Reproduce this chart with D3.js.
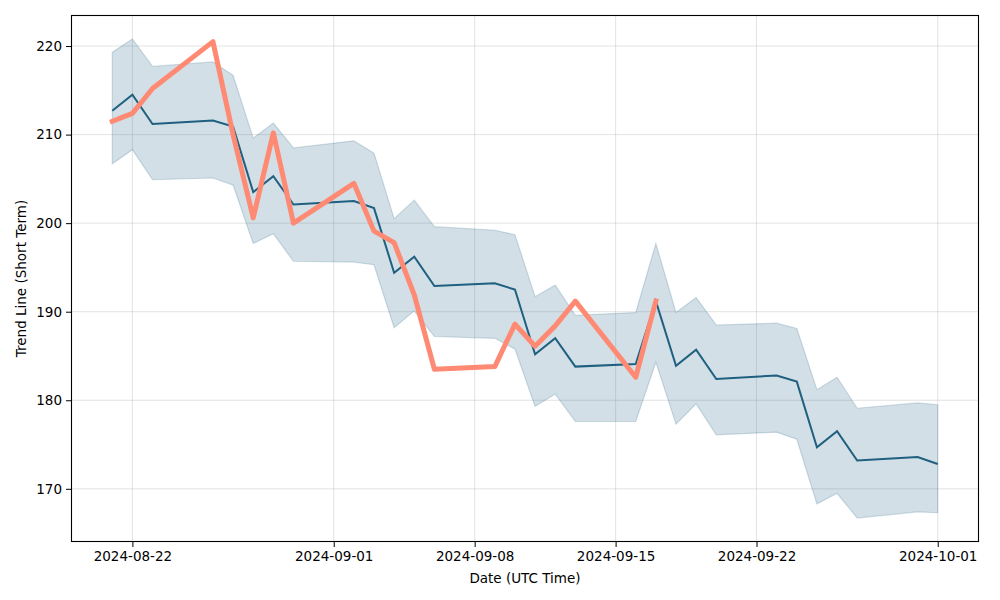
<!DOCTYPE html>
<html>
<head>
<meta charset="utf-8">
<script src="https://cdn.jsdelivr.net/npm/d3@7"></script>
<style>
html,body{margin:0;padding:0;background:#fff;}
svg text{font-family:"DejaVu Sans",sans-serif;}
</style>
</head>
<body>
<svg id="chart" width="1000" height="600"></svg>
<script>
const dates = ["2024-08-21","2024-08-22","2024-08-23","2024-08-26","2024-08-27","2024-08-28","2024-08-29","2024-08-30",
"2024-09-02","2024-09-03","2024-09-04","2024-09-05","2024-09-06","2024-09-09","2024-09-10","2024-09-11","2024-09-12","2024-09-13",
"2024-09-16","2024-09-17","2024-09-18","2024-09-19","2024-09-20","2024-09-23","2024-09-24","2024-09-25","2024-09-26","2024-09-27",
"2024-09-30","2024-10-01"];
const trend = [212.7,214.5,211.2,211.6,210.9,203.5,205.3,202.1,202.5,201.7,194.4,196.2,192.9,193.2,192.5,185.2,187.0,183.8,
184.1,191.2,183.9,185.7,182.4,182.8,182.1,174.7,176.5,173.2,173.6,172.8];
const upper = [219.3,220.8,217.7,218.2,216.7,209.6,211.3,208.5,209.3,207.9,200.5,202.6,199.6,199.2,198.7,191.7,193.0,189.6,
189.9,197.7,189.9,191.6,188.5,188.7,188.1,181.2,182.6,179.1,179.7,179.5];
const lower = [206.7,208.3,204.9,205.1,204.3,197.7,198.8,195.7,195.6,195.3,188.2,190.1,187.2,187.0,185.8,179.3,180.7,177.6,
177.6,184.3,177.3,179.6,176.1,176.4,175.6,168.3,169.5,166.7,167.4,167.3];
const actual = [211.5,212.4,215.2,220.5,210.0,200.6,210.2,200.0,204.5,199.1,197.8,191.9,183.5,183.8,188.6,186.1,188.4,191.2,
182.6,191.2];
const xTickLabels = ["2024-08-22","2024-09-01","2024-09-08","2024-09-15","2024-09-22","2024-10-01"];
const yTicks = [170,180,190,200,210,220];

const parse = d3.utcParse("%Y-%m-%d");
const fmt = d3.utcFormat("%Y-%m-%d");
const X = dates.map(parse);

const m = {left:71, right:21, top:15, bottom:58};
const W = 1000, H = 600;
const svg = d3.select("#chart");

const x0 = +X[0], x1 = +X[X.length-1];
const pad = (x1 - x0) * 0.05;
const x = d3.scaleUtc().domain([new Date(x0 - pad), new Date(x1 + pad)]).range([m.left, W - m.right]);
const allY = upper.concat(lower, actual);
const ymin = d3.min(allY), ymax = d3.max(allY), yp = (ymax - ymin) * 0.05;
const y = d3.scaleLinear().domain([ymin - yp, ymax + yp]).range([H - m.bottom, m.top]);

const xTicks = xTickLabels.map(parse);

// grid
const g = svg.append("g");
g.selectAll(".gx").data(xTicks).enter().append("line")
  .attr("x1", d => x(d)).attr("x2", d => x(d)).attr("y1", m.top).attr("y2", H - m.bottom)
  .attr("stroke", "#b0b0b0").attr("stroke-opacity", 0.35).attr("stroke-width", 1);
g.selectAll(".gy").data(yTicks).enter().append("line")
  .attr("x1", m.left).attr("x2", W - m.right).attr("y1", d => y(d)).attr("y2", d => y(d))
  .attr("stroke", "#b0b0b0").attr("stroke-opacity", 0.35).attr("stroke-width", 1);

// band
const area = d3.area().x((d,i) => x(X[i])).y0((d,i) => y(lower[i])).y1((d,i) => y(upper[i]));
svg.append("path").datum(trend).attr("d", area)
  .attr("fill", "#1f5f80").attr("fill-opacity", 0.2)
  .attr("stroke", "#1f5f80").attr("stroke-opacity", 0.2).attr("stroke-width", 1.2);

// trend line
const line = d3.line().x((d,i) => x(X[i])).y(d => y(d));
svg.append("path").datum(trend).attr("d", line)
  .attr("fill", "none").attr("stroke", "#1f5f80").attr("stroke-width", 2);

// actual line
svg.append("path").datum(actual).attr("d", line)
  .attr("fill", "none").attr("stroke", "#ff8a73").attr("stroke-width", 5)
  .attr("stroke-linejoin", "round").attr("stroke-linecap", "square");

// axes
const xAxis = d3.axisBottom(x).tickValues(xTicks).tickFormat(fmt).tickSizeOuter(0).tickSize(5).tickPadding(4);
const yAxis = d3.axisLeft(y).tickValues(yTicks).tickFormat(d3.format("d")).tickSizeOuter(0).tickSize(5).tickPadding(4);
const gx = svg.append("g").attr("transform", `translate(0,${H - m.bottom})`).call(xAxis);
const gy = svg.append("g").attr("transform", `translate(${m.left},0)`).call(yAxis);
[gx, gy].forEach(a => {
  a.select(".domain").remove();
  a.selectAll("text").attr("font-size", "13.5px").attr("fill", "#000").attr("font-family", "DejaVu Sans");
  a.selectAll("line").attr("stroke", "#000").attr("stroke-width", 1);
});

// frame
svg.append("rect").attr("x", m.left + 0.5).attr("y", m.top + 0.5)
  .attr("width", W - m.right - m.left - 1).attr("height", H - m.bottom - m.top - 1)
  .attr("fill", "none").attr("stroke", "#000").attr("stroke-width", 1.1);

// labels
svg.append("text").attr("x", (m.left + W - m.right) / 2).attr("y", 583)
  .attr("text-anchor", "middle").attr("font-size", "13.5px").text("Date (UTC Time)");
svg.append("text").attr("transform", `translate(26,${(m.top + H - m.bottom) / 2}) rotate(-90)`)
  .attr("text-anchor", "middle").attr("font-size", "13.5px").text("Trend Line (Short Term)");
</script>
</body>
</html>
